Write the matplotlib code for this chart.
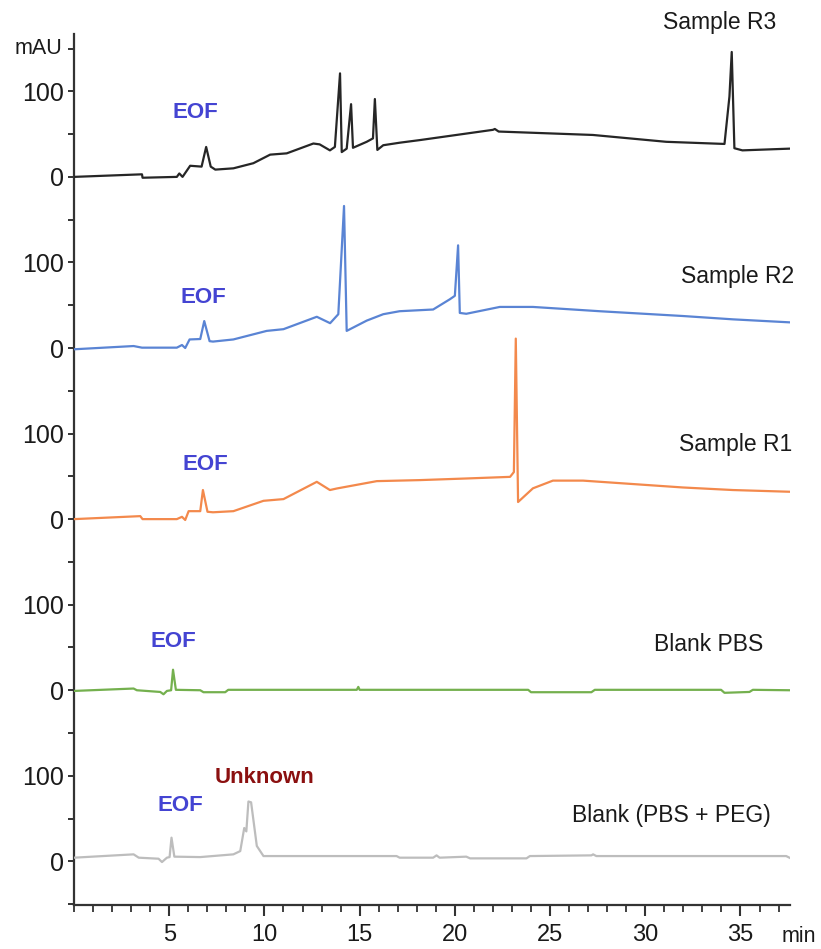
import numpy as np
import matplotlib
matplotlib.use("Agg")
import matplotlib.pyplot as plt
from matplotlib.ticker import MultipleLocator, FixedLocator

plt.rcParams['font.family'] = ['Liberation Sans', 'DejaVu Sans']

# ---------------- data (time in min, absorbance in mAU) ----------------
r3_time = [0, 3.57, 3.6, 5.4, 5.53, 5.7, 6.1, 6.7, 6.94, 7.18, 7.42, 8.37, 9.42, 10.3, 11.17,
           12.57, 12.9, 13.44, 13.7, 13.97, 14.06, 14.32, 14.55, 14.65, 15.37, 15.7, 15.8,
           15.93, 16.24, 17.12, 18.16, 22.0, 22.1, 22.3, 27.25, 31.1, 34.16, 34.42, 34.54,
           34.68, 35.1, 37.57]
r3_mau = [0, 3, -1, 0, 4, 0, 13, 12, 35, 12, 8.5, 10, 16, 26, 27.5,
          39, 38, 31, 35, 121, 29, 33, 85, 34, 41, 45, 91,
          31.5, 37, 40, 43, 55, 56, 53, 49, 41, 38.5, 94, 146,
          33.5, 31, 33]

r2_time = [0, 3.13, 3.57, 5.4, 5.67, 5.84, 6.07, 6.63, 6.84, 7.12, 7.3, 8.37, 10.12, 11.0,
           12.75, 13.45, 13.88, 14.18, 14.32, 15.37, 16.24, 17.1, 18.86, 19.74, 20.0, 20.17,
           20.26, 20.6, 22.36, 24.1, 27.6, 31.97, 34.6, 37.57]
r2_mau = [-1.5, 2.3, 0.4, 0.4, 3.5, 0, 10, 10.5, 31.5, 8, 7.5, 10, 20, 22,
          36.5, 29, 39.5, 166, 20, 32, 39.5, 43, 45, 57, 61, 120,
          41, 40, 48, 48, 43, 37.4, 33.5, 30]

r1_time = [0, 3.48, 3.6, 5.4, 5.67, 5.84, 6.02, 6.63, 6.77, 7.01, 7.3, 8.37, 9.95, 11.0,
           12.75, 13.44, 13.8, 15.9, 18.16, 20.6, 22.9, 23.1, 23.2, 23.32, 24.1, 25.15,
           26.73, 31.97, 34.6, 37.57]
r1_mau = [0, 3.5, 0, 0, 2.7, -1, 9.3, 9.3, 34, 8.6, 8, 9.3, 21.4, 23.4,
          43.6, 34, 35.8, 44.4, 45.6, 47.5, 49.4, 55, 211, 20, 36, 45,
          45, 37, 34, 32]

pbs_time = [0, 3.13, 3.3, 4.53, 4.7, 4.88, 5.1, 5.2, 5.35, 6.63, 6.8, 7.94, 8.1, 14.85,
            14.93, 15.0, 23.85, 24.0, 27.17, 27.35, 33.98, 34.16, 35.47, 35.65, 37.57]
pbs_mau = [-0.8, 2, 0, -2, -4.7, -0.8, 0, 24, 0.5, 0, -2.3, -2.3, 0.5, 0.5,
           3.9, 0.5, 0.5, -2.3, -2.3, 0.5, 0.5, -3, -2, 0.5, 0]

peg_time = [0, 3.13, 3.4, 4.44, 4.62, 4.88, 5.02, 5.12, 5.27, 6.63, 8.37, 8.73, 8.94, 9.05,
            9.16, 9.3, 9.6, 9.95, 13.0, 16.94, 17.1, 18.86, 19.04, 19.2, 20.6, 20.8, 23.76,
            23.94, 27.17, 27.26, 27.43, 37.4, 37.57]
peg_mau = [4.3, 8.2, 4.3, 3.1, -0.8, 4.3, 5, 27.7, 5.5, 5, 8.2, 12, 39, 35,
           70, 69, 18, 6.2, 6.2, 6.2, 4.3, 4.3, 7, 4.3, 5.5, 3.5, 3.5,
           6.2, 7, 8.2, 6.2, 6.2, 4.3]

trace_names = ["Sample R3", "Sample R2", "Sample R1", "Blank PBS", "Blank (PBS + PEG)"]
# EOF marker times (label positions) per trace
eof_times = [6.37, 6.8, 6.9, 5.2, 5.6]
unknown_time = 10.0

x_major_ticks = [5, 10, 15, 20, 25, 30, 35]

# ---------------- layout / style ----------------
offsets = [800, 600, 400, 200, 0]
colors = ["#262626", "#5A84D4", "#F3894C", "#74B04E", "#BDBDBD"]
name_pos = [(36.9, 980), (37.8, 83), (37.7, 87), (36.2, 53), (36.6, 54)]
eof_rel_y = [75, 59, 64, 57, 65]

times = [r3_time, r2_time, r1_time, pbs_time, peg_time]
values = [r3_mau, r2_mau, r1_mau, pbs_mau, peg_mau]

fig = plt.figure(figsize=(8.21, 9.49), dpi=100)
ax = fig.add_axes([74 / 821, 1 - 905 / 949, (790 - 74) / 821, (905 - 34) / 949])

for i in range(5):
    t = np.asarray(times[i])
    v = np.asarray(values[i]) + offsets[i]
    ax.plot(t, v, color=colors[i], lw=1.6, solid_joinstyle='round', zorder=3)
    nx, ny = name_pos[i]
    yy = ny if i == 0 else offsets[i] + ny
    ax.text(nx, yy, trace_names[i], ha='right', va='center', fontsize=16.5,
            color='#1a1a1a', clip_on=False)
    ax.text(eof_times[i], offsets[i] + eof_rel_y[i], "EOF", ha='center', va='center',
            fontsize=16, fontweight='bold', color='#4444D2')

ax.text(unknown_time, offsets[4] + 98, "Unknown", ha='center', va='center',
        fontsize=16, fontweight='bold', color='#8B1010')

ax.set_xlim(0, 37.6)
ax.set_ylim(-51, 967)

for s in ['top', 'right']:
    ax.spines[s].set_visible(False)
for s in ['left', 'bottom']:
    ax.spines[s].set_linewidth(1.6)
    ax.spines[s].set_color('#333333')

ax.xaxis.set_major_locator(FixedLocator(x_major_ticks))
ax.xaxis.set_minor_locator(MultipleLocator(1))
ax.tick_params(axis='x', which='major', length=8, width=1.5, direction='out',
               labelsize=17, colors='#333333', labelcolor='#1a1a1a', pad=6)
ax.tick_params(axis='x', which='minor', length=5, width=1.3, direction='out',
               colors='#333333')

yt = list(range(-50, 951, 50))
labels = []
for y in yt:
    lab = ""
    for off in offsets:
        if y == off:
            lab = "0"
        elif y == off + 100:
            lab = "100"
    labels.append(lab)
ax.set_yticks(yt)
ax.set_yticklabels(labels)
ax.tick_params(axis='y', which='major', length=4, width=1.4, direction='out',
               labelsize=18, colors='#333333', labelcolor='#1a1a1a', pad=3)

ax.text(-0.6, 950, "mAU", ha='right', va='center', fontsize=15.5, color='#1a1a1a',
        clip_on=False)
fig.text(782 / 821, 1 - 936 / 949, "min", ha='left', va='center', fontsize=15.5,
         color='#1a1a1a')

fig.savefig("out.png", dpi=100)
